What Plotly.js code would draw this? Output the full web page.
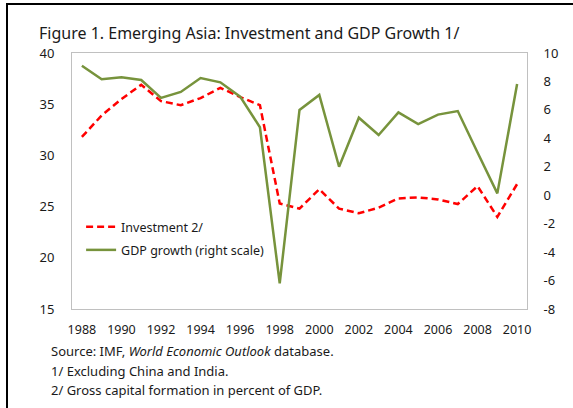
<!DOCTYPE html>
<html>
<head>
<meta charset="utf-8">
<script src="https://cdn.plot.ly/plotly-3.0.1.min.js"></script>
<style>
  html, body { margin: 0; padding: 0; background: #fff; }
  #wrap { position: relative; width: 573px; height: 408px; overflow: hidden; }
  #chart { position: absolute; left: 0; top: 0; width: 573px; height: 408px; }
  #frame { position: absolute; left: 6px; top: 3px; width: 566px; height: 420px;
           border-left: 2px solid #000; border-top: 2px solid #000; pointer-events: none; }
</style>
</head>
<body>
<div id="wrap">
  <div id="chart"></div>
  <div id="frame"></div>
</div>
<script>
const years = ['1988','1989','1990','1991','1992','1993','1994','1995','1996','1997','1998',
               '1999','2000','2001','2002','2003','2004','2005','2006','2007','2008','2009','2010'];
const investment = [31.8, 33.9, 35.5, 36.9, 35.3, 34.9, 35.6, 36.6, 35.7, 34.9, 25.3,
                    24.8, 26.7, 24.8, 24.35, 24.9, 25.8, 25.9, 25.7, 25.25, 27.0, 24.0, 27.2];
const gdpGrowth = [9.1, 8.15, 8.3, 8.1, 6.84, 7.26, 8.24, 7.94, 6.93, 4.78, -6.2,
                   6.0, 7.05, 2.0, 5.45, 4.23, 5.82, 5.0, 5.67, 5.92, 3.0, 0.13, 7.82];
const xTickLabels = ['1988','1990','1992','1994','1996','1998','2000','2002','2004','2006','2008','2010'];
const leftTicks = [15, 20, 25, 30, 35, 40];
const rightTicks = [-8, -6, -4, -2, 0, 2, 4, 6, 8, 10];
const rightTickText = ['-8', '-6', '-4', '-2', '0', '2', '4', '6', '8', '10'];

const FONT = 'Noto Sans, DejaVu Sans, sans-serif';
const TXT = '#1a1a1a';

const traces = [
  {
    x: years, y: investment, name: 'Investment 2/', type: 'scatter', mode: 'lines',
    legendgroup: 'inv',
    line: { color: '#ff0000', width: 2.5, dash: '7px,4px' }, yaxis: 'y'
  },
  {
    x: years, y: gdpGrowth, name: 'GDP growth (right scale)', type: 'scatter', mode: 'lines',
    legendgroup: 'gdp',
    line: { color: '#77933c', width: 2.5 }, yaxis: 'y2'
  }
];

const layout = {
  width: 573, height: 408,
  margin: { l: 72, r: 46, t: 53, b: 99, pad: 0 },
  paper_bgcolor: '#ffffff', plot_bgcolor: '#ffffff',
  font: { family: FONT, size: 13, color: TXT },
  showlegend: true,
  legend: {
    x: 0.02, y: (309 - 212) / 256, xanchor: 'left', yanchor: 'top',
    bgcolor: 'rgba(0,0,0,0)', font: { family: FONT, size: 12.5, color: TXT },
    tracegroupgap: 4
  },
  title: {
    text: 'Figure 1. Emerging Asia: Investment and GDP Growth 1/',
    font: { family: FONT, size: 16, color: TXT },
    x: 39 / 573, xanchor: 'left', xref: 'container',
    y: 1 - 33 / 408, yanchor: 'middle', yref: 'container'
  },
  xaxis: {
    type: 'category', range: [-0.5, 22.5],
    tickmode: 'array', tickvals: xTickLabels, ticktext: xTickLabels,
    showgrid: false, zeroline: false,
    showline: true, mirror: true, linecolor: '#c0c0c0', linewidth: 1,
    ticks: 'outside', ticklen: 9, tickcolor: 'rgba(0,0,0,0)',
    tickfont: { family: FONT, size: 12.5, color: TXT },
    automargin: false
  },
  yaxis: {
    range: [15, 40], tickmode: 'array', tickvals: leftTicks,
    showgrid: false, zeroline: false,
    showline: true, mirror: true, linecolor: '#c0c0c0', linewidth: 1,
    ticks: 'outside', ticklen: 14, tickcolor: 'rgba(0,0,0,0)',
    tickfont: { family: FONT, size: 13, color: TXT }, automargin: false
  },
  yaxis2: {
    range: [-8, 10], tickmode: 'array', tickvals: rightTicks, ticktext: rightTickText,
    overlaying: 'y', side: 'right', showgrid: false, zeroline: false,
    showline: false,
    ticks: 'outside', ticklen: 13, tickcolor: 'rgba(0,0,0,0)',
    tickfont: { family: FONT, size: 13, color: TXT }, automargin: false
  },
  annotations: [
    { text: 'Source: IMF, <i>World Economic Outlook</i> database.', xref: 'paper', yref: 'paper',
      x: -23 / 455, y: (309 - 351) / 256, xanchor: 'left', yanchor: 'middle', showarrow: false,
      font: { family: FONT, size: 13, color: TXT } },
    { text: '1/ Excluding China and India.', xref: 'paper', yref: 'paper',
      x: -23 / 455, y: (309 - 370.5) / 256, xanchor: 'left', yanchor: 'middle', showarrow: false,
      font: { family: FONT, size: 13, color: TXT } },
    { text: '2/ Gross capital formation in percent of GDP.', xref: 'paper', yref: 'paper',
      x: -23 / 455, y: (309 - 389.5) / 256, xanchor: 'left', yanchor: 'middle', showarrow: false,
      font: { family: FONT, size: 13, color: TXT } }
  ]
};

Plotly.newPlot('chart', traces, layout, { displayModeBar: false, staticPlot: true });
</script>
</body>
</html>
